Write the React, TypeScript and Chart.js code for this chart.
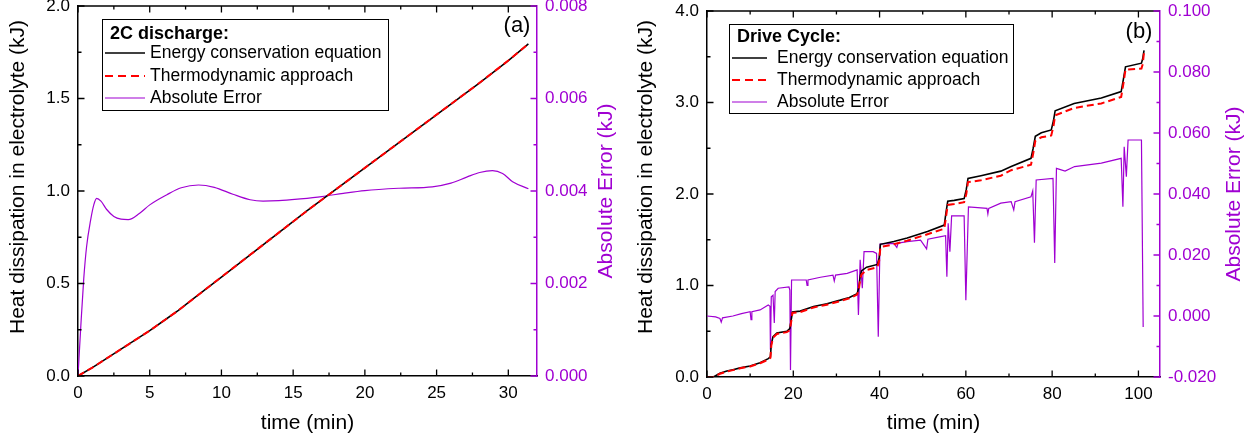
import React, { useEffect, useRef } from "react";
import { Chart, registerables } from "chart.js";
Chart.register(...registerables);

const FONT = "'Liberation Sans', Arial, Helvetica, sans-serif";
const PURPLE = "#a000d2";

// ---------- Panel (a): 2C discharge ----------
const T_2C = [0, 1, 2, 3, 4, 5, 6, 7, 8, 10, 12, 14, 16, 18, 20, 22, 24, 26, 28, 30, 31.4];
const ENERGY_2C = [0, 0.045, 0.095, 0.145, 0.195, 0.245, 0.3, 0.355, 0.415, 0.535, 0.655, 0.775, 0.895, 1.01, 1.125, 1.24, 1.355, 1.47, 1.585, 1.705, 1.795];
const THERMO_2C = [0, 0.045, 0.095, 0.145, 0.195, 0.245, 0.3, 0.355, 0.415, 0.535, 0.655, 0.775, 0.895, 1.01, 1.125, 1.24, 1.355, 1.47, 1.585, 1.705, 1.795];
const T_ERR_2C = [0, 0.2, 0.4, 0.6, 0.88, 1.1, 1.3, 1.6, 2.0, 2.5, 3.0, 3.5, 4.3, 5.0, 6.2, 7.2, 8.4, 9.5, 10.8, 12.0, 12.9, 14.0, 15.5, 17.0, 18.5, 20.0, 22.4, 24.7, 26.0, 27.1, 28.0, 28.9, 29.6, 30.3, 31.4];
const ERR_2C = [0, 0.0011, 0.0021, 0.0028, 0.00337, 0.0037, 0.00384, 0.00378, 0.0036, 0.00345, 0.00339, 0.00338, 0.00352, 0.0037, 0.00392, 0.00407, 0.00413, 0.00408, 0.00393, 0.00381, 0.00378, 0.00379, 0.00383, 0.00388, 0.00395, 0.00401, 0.00406, 0.00409, 0.00417, 0.0043, 0.0044, 0.00444, 0.00438, 0.0042, 0.00405];
const X_TICKS_2C = [0, 5, 10, 15, 20, 25, 30];
const X_MINOR_2C = [2.5, 7.5, 12.5, 17.5, 22.5, 27.5];
const Y_TICKS_2C = [0, 0.5, 1.0, 1.5, 2.0];
const Y_MINOR_2C = [0.25, 0.75, 1.25, 1.75];
const Y1_TICKS_2C = [0, 0.002, 0.004, 0.006, 0.008];
const Y1_MINOR_2C = [0.001, 0.003, 0.005, 0.007];

// ---------- Panel (b): Drive cycle ----------
const T_DC = [0, 1.5, 3, 4.6, 6, 7.7, 10, 12.3, 14.2, 14.7, 14.9, 15.3, 16.2, 18.5, 19.2, 19.5, 19.8, 21.6, 24.7, 27.8, 30.9, 33, 34.8, 35.2, 35.5, 35.8, 37, 39.5, 39.9, 40.2, 43.3, 46.4, 51.1, 55, 55.4, 55.8, 57.3, 59.6, 60.1, 60.5, 63.5, 68.1, 70.5, 75.1, 75.6, 76.1, 77.5, 79.8, 80.3, 80.7, 85.1, 91.4, 96, 96.5, 97, 100.7, 101, 101.3];
const ENERGY_DC = [0, 0, 0.04, 0.065, 0.08, 0.1, 0.12, 0.156, 0.2, 0.22, 0.36, 0.44, 0.48, 0.5, 0.53, 0.62, 0.71, 0.72, 0.77, 0.8, 0.84, 0.87, 0.91, 0.98, 1.1, 1.16, 1.2, 1.23, 1.3, 1.45, 1.48, 1.52, 1.59, 1.66, 1.8, 1.92, 1.93, 1.95, 2.05, 2.17, 2.2, 2.25, 2.3, 2.39, 2.5, 2.63, 2.67, 2.7, 2.8, 2.91, 2.99, 3.05, 3.12, 3.25, 3.39, 3.43, 3.48, 3.57];
const THERMO_DC = [0, 0, 0.035, 0.06, 0.075, 0.095, 0.115, 0.15, 0.19, 0.21, 0.34, 0.43, 0.47, 0.49, 0.51, 0.6, 0.7, 0.71, 0.76, 0.79, 0.83, 0.86, 0.9, 0.96, 1.06, 1.12, 1.17, 1.2, 1.27, 1.42, 1.45, 1.49, 1.56, 1.62, 1.75, 1.88, 1.89, 1.91, 2.0, 2.13, 2.15, 2.2, 2.26, 2.32, 2.44, 2.58, 2.62, 2.64, 2.74, 2.86, 2.94, 2.99, 3.06, 3.2, 3.36, 3.37, 3.42, 3.55];
const T_ERR_DC = [0, 2, 3, 3.3, 3.6, 6, 8, 10, 10.2, 10.4, 12.3, 14.2, 14.6, 14.7, 14.9, 15.3, 15.6, 15.8, 16.5, 19.0, 19.2, 19.35, 19.6, 23.0, 23.2, 23.4, 26.3, 29.2, 29.5, 29.8, 32.5, 34.8, 35.1, 35.5, 36.0, 36.4, 38.5, 39.3, 39.7, 40.1, 43.3, 44.0, 44.3, 46.4, 49.5, 50.9, 51.2, 54.2, 55.3, 55.6, 55.9, 56.3, 56.7, 59.6, 60.0, 60.6, 64.9, 65.1, 65.3, 68.1, 70.5, 71.1, 71.4, 75.1, 75.5, 75.9, 76.3, 80.2, 80.6, 81.0, 83.0, 85.2, 91.4, 96.0, 96.4, 96.7, 97.2, 97.6, 100.7, 101.1];
const ERR_DC = [0, -0.0003, -0.0008, -0.002, -0.0006, 0, 0.0008, 0.0014, -0.0012, 0.0014, 0.002, 0.0036, 0.0032, -0.0111, 0.0063, 0.0068, -0.0023, 0.008, 0.0091, 0.0095, 0.0085, -0.0177, 0.0118, 0.0118, 0.01, 0.0118, 0.0127, 0.0134, 0.0115, 0.0134, 0.014, 0.0151, 0.0003, 0.0184, 0.0091, 0.0211, 0.0211, 0.0205, -0.0068, 0.0236, 0.0238, 0.0225, 0.0239, 0.0244, 0.0249, 0.022, 0.0252, 0.026, 0.0263, 0.0129, 0.0304, 0.0211, 0.0328, 0.0328, 0.0052, 0.0358, 0.0353, 0.0335, 0.0353, 0.037, 0.0375, 0.0348, 0.0375, 0.0391, 0.041, 0.024, 0.0446, 0.0451, 0.0174, 0.0484, 0.0475, 0.049, 0.0501, 0.0517, 0.0358, 0.0555, 0.0457, 0.0577, 0.0577, -0.0036];
const X_TICKS_DC = [0, 20, 40, 60, 80, 100];
const X_MINOR_DC = [10, 30, 50, 70, 90];
const Y_TICKS_DC = [0, 1.0, 2.0, 3.0, 4.0];
const Y_MINOR_DC = [0.5, 1.5, 2.5, 3.5];
const Y1_TICKS_DC = [-0.02, 0, 0.02, 0.04, 0.06, 0.08, 0.1];
const Y1_MINOR_DC = [-0.01, 0.01, 0.03, 0.05, 0.07, 0.09];

const LABEL_ENERGY = "Energy conservation equation";
const LABEL_THERMO = "Thermodynamic approach";
const LABEL_ERR = "Absolute Error";

const pts = (xs: number[], ys: number[]) => xs.map((x, i) => ({ x, y: ys[i] }));

interface PanelCfg {
  tag: string;
  legendTitle: string;
  xMax: number;
  xTicks: number[]; xMinor: number[];
  yMax: number; yTicks: number[]; yMinor: number[];
  y1Min: number; y1Max: number; y1Ticks: number[]; y1Minor: number[];
  padTop: number; xAxisH: number; yAxisW: number; y1AxisW: number; xLabelPad: number;
  t: number[]; energy: number[]; thermo: number[]; tErr: number[]; err: number[];
  smoothErr: boolean;
  box: [number, number, number, number];
  titleY: number; rowsY: number[]; lineX: [number, number]; textX: number;
  tagX: number; tagY: number;
}

function decorPlugin(cfg: PanelCfg) {
  return {
    id: "decor",
    afterDraw(chart: any) {
      const ctx: CanvasRenderingContext2D = chart.ctx;
      const a = chart.chartArea;
      const sx = chart.scales.x, sy = chart.scales.y, sy1 = chart.scales.y1;
      ctx.save();
      ctx.lineCap = "butt";
      // top frame
      ctx.strokeStyle = "#000";
      ctx.lineWidth = 1.5;
      ctx.beginPath();
      ctx.moveTo(a.left - 0.75, a.top);
      ctx.lineTo(a.right, a.top);
      ctx.stroke();
      // inward ticks
      const MAJ = 6.5, MIN = 3.5;
      ctx.lineWidth = 1.3;
      ctx.strokeStyle = "#000";
      ctx.beginPath();
      const xt = (vals: number[], len: number) => vals.forEach((v) => {
        const p = sx.getPixelForValue(v);
        ctx.moveTo(p, a.bottom); ctx.lineTo(p, a.bottom - len);
        ctx.moveTo(p, a.top); ctx.lineTo(p, a.top + len);
      });
      xt(cfg.xTicks, MAJ); xt(cfg.xMinor, MIN);
      const yt = (vals: number[], len: number) => vals.forEach((v) => {
        const p = sy.getPixelForValue(v);
        ctx.moveTo(a.left, p); ctx.lineTo(a.left + len, p);
      });
      yt(cfg.yTicks, MAJ); yt(cfg.yMinor, MIN);
      ctx.stroke();
      ctx.strokeStyle = PURPLE;
      ctx.beginPath();
      const y1t = (vals: number[], len: number) => vals.forEach((v) => {
        const p = sy1.getPixelForValue(v);
        ctx.moveTo(a.right, p); ctx.lineTo(a.right - len, p);
      });
      y1t(cfg.y1Ticks, MAJ); y1t(cfg.y1Minor, MIN);
      ctx.stroke();

      // axis titles
      ctx.font = `21px ${FONT}`;
      ctx.textAlign = "center";
      ctx.textBaseline = "middle";
      ctx.fillStyle = "#000";
      ctx.save();
      ctx.translate(18, 177);
      ctx.rotate(-Math.PI / 2);
      ctx.fillText("Heat dissipation in electrolyte (kJ)", 0, 0);
      ctx.restore();
      ctx.fillText("time (min)", (a.left + a.right) / 2, 423);
      ctx.fillStyle = PURPLE;
      ctx.save();
      ctx.translate(606, (a.top + a.bottom) / 2);
      ctx.rotate(-Math.PI / 2);
      ctx.fillText("Absolute Error (kJ)", 0, 0);
      ctx.restore();

      // panel tag
      ctx.fillStyle = "#000";
      ctx.font = `22px ${FONT}`;
      ctx.fillText(cfg.tag, cfg.tagX, cfg.tagY);

      // legend box
      const [bx, by, bw, bh] = cfg.box;
      ctx.fillStyle = "#fff";
      ctx.fillRect(bx, by, bw, bh);
      ctx.strokeStyle = "#000";
      ctx.lineWidth = 1;
      ctx.strokeRect(bx + 0.5, by + 0.5, bw, bh);
      ctx.fillStyle = "#000";
      ctx.textAlign = "left";
      ctx.font = `bold 18px ${FONT}`;
      ctx.fillText(cfg.legendTitle, bx + 8, cfg.titleY);
      ctx.font = `17.5px ${FONT}`;
      const entries = [
        { label: LABEL_ENERGY, color: "#000", dash: [] as number[], w: 1.5 },
        { label: LABEL_THERMO, color: "#ff0000", dash: [8, 5], w: 1.8 },
        { label: LABEL_ERR, color: PURPLE, dash: [] as number[], w: 1.2 },
      ];
      entries.forEach((e, i) => {
        const y = cfg.rowsY[i];
        ctx.strokeStyle = e.color;
        ctx.lineWidth = e.w;
        ctx.setLineDash(e.dash);
        ctx.beginPath();
        ctx.moveTo(cfg.lineX[0], y);
        ctx.lineTo(cfg.lineX[1], y);
        ctx.stroke();
        ctx.setLineDash([]);
        ctx.fillStyle = "#000";
        ctx.fillText(e.label, cfg.textX, y);
      });
      ctx.restore();
    },
  };
}

function buildConfig(cfg: PanelCfg): any {
  const tickFont = { family: FONT, size: 17 };
  const setTicks = (vals: number[]) => (s: any) => { s.ticks = vals.map((v) => ({ value: v })); };
  return {
    type: "line",
    data: {
      datasets: [
        {
          label: LABEL_THERMO, data: pts(cfg.t, cfg.thermo), yAxisID: "y", order: 0,
          borderColor: "#ff0000", borderWidth: 2, borderDash: [7, 4], pointRadius: 0, fill: false, tension: 0,
        },
        {
          label: LABEL_ENERGY, data: pts(cfg.t, cfg.energy), yAxisID: "y", order: 1,
          borderColor: "#000000", borderWidth: 1.6, pointRadius: 0, fill: false, tension: 0,
        },
        {
          label: LABEL_ERR, data: pts(cfg.tErr, cfg.err), yAxisID: "y1", order: 2,
          borderColor: PURPLE, borderWidth: 1.2, pointRadius: 0, fill: false,
          cubicInterpolationMode: cfg.smoothErr ? "monotone" : "default", tension: 0,
        },
      ],
    },
    options: {
      responsive: false,
      animation: false,
      devicePixelRatio: 1,
      parsing: true,
      layout: { padding: { top: cfg.padTop, left: 0, right: 0, bottom: 0 } },
      plugins: { legend: { display: false }, tooltip: { enabled: false } },
      scales: {
        x: {
          type: "linear", position: "bottom", min: 0, max: cfg.xMax,
          afterBuildTicks: setTicks(cfg.xTicks),
          afterFit: (s: any) => { s.height = cfg.xAxisH; s.paddingLeft = 0; s.paddingRight = 0; },
          ticks: { font: tickFont, color: "#000", padding: cfg.xLabelPad, maxRotation: 0, autoSkip: false, callback: (v: any) => String(v) },
          grid: { display: false, drawTicks: false, tickLength: 0 },
          border: { display: true, color: "#000", width: 1.5 },
        },
        y: {
          type: "linear", position: "left", min: 0, max: cfg.yMax,
          afterBuildTicks: setTicks(cfg.yTicks),
          afterFit: (s: any) => { s.width = cfg.yAxisW; s.paddingTop = 0; s.paddingBottom = 0; },
          ticks: { font: tickFont, color: "#000", padding: 8, autoSkip: false, callback: (v: any) => Number(v).toFixed(1) },
          grid: { display: false, drawTicks: false, tickLength: 0 },
          border: { display: true, color: "#000", width: 1.5 },
        },
        y1: {
          type: "linear", position: "right", min: cfg.y1Min, max: cfg.y1Max,
          afterBuildTicks: setTicks(cfg.y1Ticks),
          afterFit: (s: any) => { s.width = cfg.y1AxisW; s.paddingTop = 0; s.paddingBottom = 0; },
          ticks: { font: tickFont, color: PURPLE, padding: 8, autoSkip: false, callback: (v: any) => Number(v).toFixed(3) },
          grid: { display: false, drawTicks: false, tickLength: 0 },
          border: { display: true, color: PURPLE, width: 1.5 },
        },
      },
    },
    plugins: [decorPlugin(cfg)],
  };
}

const PANEL_A: PanelCfg = {
  tag: "(a)", legendTitle: "2C discharge:",
  xMax: 32, xTicks: X_TICKS_2C, xMinor: X_MINOR_2C,
  yMax: 2, yTicks: Y_TICKS_2C, yMinor: Y_MINOR_2C,
  y1Min: 0, y1Max: 0.008, y1Ticks: Y1_TICKS_2C, y1Minor: Y1_MINOR_2C,
  padTop: 6, xAxisH: 64, yAxisW: 78, y1AxisW: 91, xLabelPad: 7,
  t: T_2C, energy: ENERGY_2C, thermo: THERMO_2C, tErr: T_ERR_2C, err: ERR_2C, smoothErr: true,
  box: [102, 19, 286, 91], titleY: 34, rowsY: [53, 76, 98], lineX: [105, 145], textX: 150,
  tagX: 517, tagY: 26,
};

const PANEL_B: PanelCfg = {
  tag: "(b)", legendTitle: "Drive Cycle:",
  xMax: 105, xTicks: X_TICKS_DC, xMinor: X_MINOR_DC,
  yMax: 4, yTicks: Y_TICKS_DC, yMinor: Y_MINOR_DC,
  y1Min: -0.02, y1Max: 0.1, y1Ticks: Y1_TICKS_DC, y1Minor: Y1_MINOR_DC,
  padTop: 11, xAxisH: 63, yAxisW: 79, y1AxisW: 96, xLabelPad: 7,
  t: T_DC, energy: ENERGY_DC, thermo: THERMO_DC, tErr: T_ERR_DC, err: ERR_DC, smoothErr: false,
  box: [101, 24, 284, 89], titleY: 37, rowsY: [58, 80, 102], lineX: [104, 139], textX: 149,
  tagX: 511, tagY: 32,
};

function Panel({ cfg }: { cfg: PanelCfg }) {
  const ref = useRef<HTMLCanvasElement | null>(null);
  useEffect(() => {
    if (!ref.current) return;
    const chart = new Chart(ref.current, buildConfig(cfg));
    return () => chart.destroy();
  }, [cfg]);
  return <canvas ref={ref} width={628} height={440} style={{ display: "block", width: 628, height: 440 }} />;
}

export default function App() {
  return (
    <div style={{ position: "absolute", left: 0, top: 0, width: 1256, height: 440, display: "flex", background: "#fff" }}>
      <Panel cfg={PANEL_A} />
      <Panel cfg={PANEL_B} />
    </div>
  );
}
